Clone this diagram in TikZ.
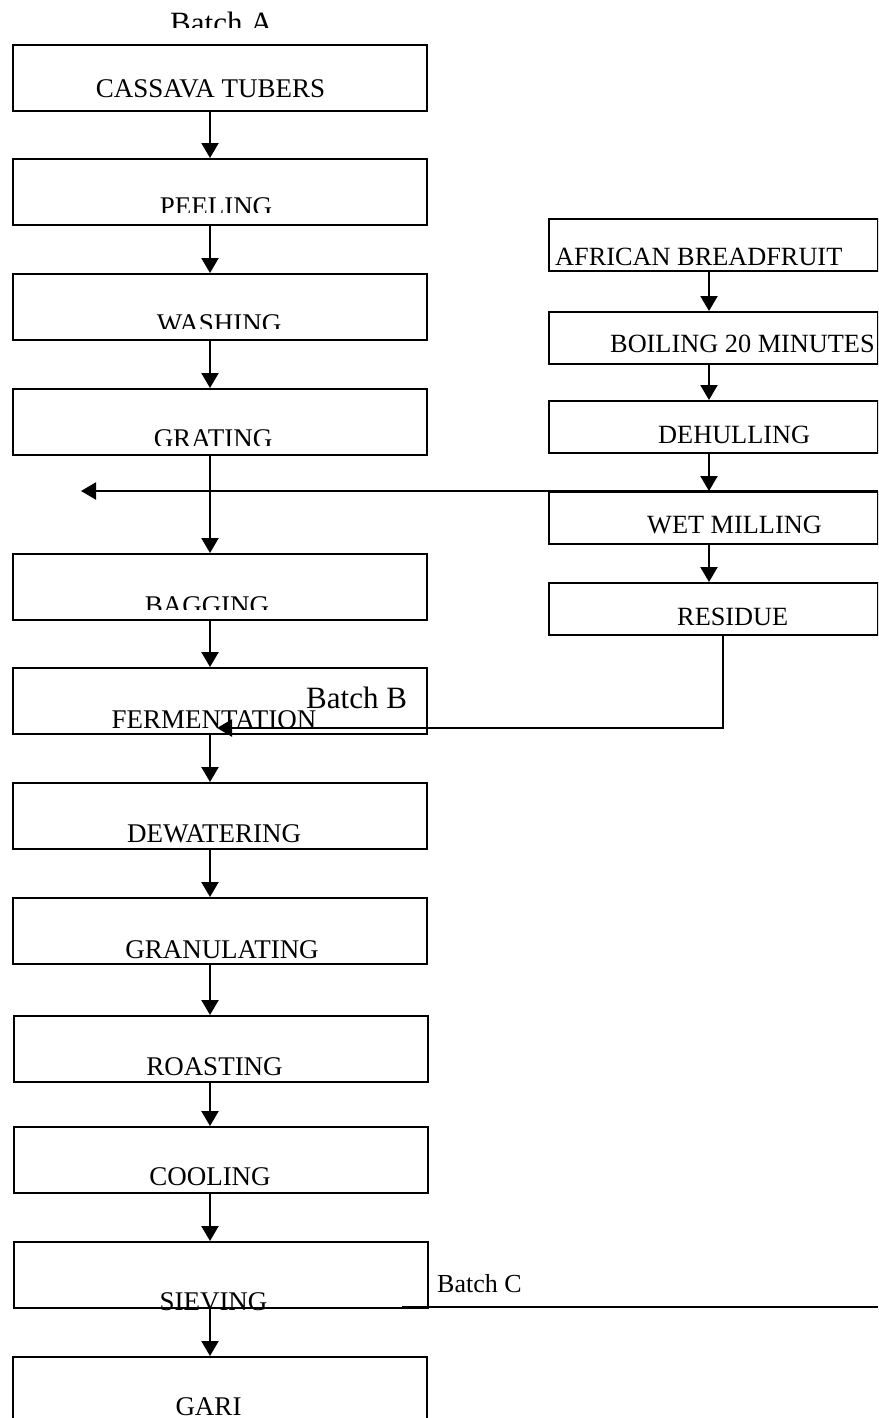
\documentclass[tikz,border=0pt]{standalone}
\usepackage{fontspec}
\setmainfont{Liberation Serif}
\usetikzlibrary{arrows.meta}
\begin{document}
\begin{tikzpicture}[x=1pt,y=-1pt,
  box/.style={draw,line width=1.9pt,inner sep=0pt,minimum width=414pt,minimum height=66pt,anchor=north west},
  rbox/.style={draw,line width=1.7pt,inner sep=0pt,minimum width=329pt,minimum height=52pt,anchor=north west},
  lbl/.style={inner sep=0pt,anchor=base,font=\fontsize{27}{32}\selectfont},
  lbll/.style={inner sep=0pt,anchor=base west,font=\fontsize{26.3}{31}\selectfont},
  batch/.style={inner sep=0pt,anchor=base west,font=\fontsize{31}{36}\selectfont},
  arr/.style={line width=2.2pt,-{Triangle[width=17pt,length=15pt]}},
  conn/.style={line width=1.8pt}]
\useasboundingbox (0,0) rectangle (878,1418);
\clip (0,0) rectangle (878,1418);
% helper x positions
\coordinate (ax) at (210,0);
\coordinate (rx) at (709,0);
\coordinate (qx) at (723,0);
% left column boxes
\node[box] (cassava) at (12,44) {};
\node[box] (peeling) at (12,158) {};
\node[box] (washing) at (12,273) {};
\node[box] (grating) at (12,388) {};
\node[box] (bagging) at (12,553) {};
\node[box] (ferment) at (12,667) {};
\node[box] (dewater) at (12,782) {};
\node[box] (granul) at (12,897) {};
\node[box] (roast) at (13,1015) {};
\node[box] (cool) at (13,1126) {};
\node[box] (sieve) at (13,1241) {};
\node[box] (gari) at (12,1356) {};
% left column labels
\begin{scope}\clip (0,0) rectangle (878,28);
\node[batch] (batchA) at (170,34) {Batch A};
\end{scope}
\node[lbl] (cassavaT) at (210.5,98) {CASSAVA TUBERS};
\begin{scope}\clip (0,0) rectangle (878,212);
\node[lbl] (peelingT) at (216,215) {PEELING};
\end{scope}
\begin{scope}\clip (0,0) rectangle (878,328);
\node[lbl] (washingT) at (219,332) {WASHING};
\end{scope}
\begin{scope}\clip (0,0) rectangle (878,445);
\node[lbl] (gratingT) at (213,447) {GRATING};
\end{scope}
\begin{scope}\clip (0,0) rectangle (878,609);
\node[lbl] (baggingT) at (207,614) {BAGGING};
\end{scope}
\node[lbl] (fermentT) at (214,728) {FERMENTATION};
\node[batch] (batchB) at (306,708) {Batch B};
\node[lbl] (dewaterT) at (214,842) {DEWATERING};
\node[lbl] (granulT) at (222,958) {GRANULATING};
\node[lbl] (roastT) at (214.5,1075) {ROASTING};
\node[lbl] (coolT) at (210,1185) {COOLING};
\node[lbl] (sieveT) at (213.5,1310) {SIEVING};
\node[lbl] (gariT) at (208.5,1415) {GARI};
\node[inner sep=0pt,anchor=base west,font=\fontsize{26}{30}\selectfont] (batchC) at (437,1292) {Batch C};
% right column boxes
\node[rbox] (bread) at (548,218) {};
\node[rbox] (boil) at (548,311) {};
\node[rbox] (dehull) at (548,400) {};
\node[rbox] (wetmill) at (548,491) {};
\node[rbox] (residue) at (548,582) {};
\node[lbll] (breadT) at (555,265) {AFRICAN BREADFRUIT};
\node[lbll] (boilT) at (610,352) {BOILING 20 MINUTES};
\node[lbll] (dehullT) at (658,443) {DEHULLING};
\node[lbll] (wetmillT) at (647,533) {WET MILLING};
\node[lbll] (residueT) at (677,625) {RESIDUE};
% left column arrows
\draw[arr] (cassava.south -| ax) -- (peeling.north -| ax);
\draw[arr] (peeling.south -| ax) -- (washing.north -| ax);
\draw[arr] (washing.south -| ax) -- (grating.north -| ax);
\draw[arr] (grating.south -| ax) -- (bagging.north -| ax);
\draw[arr] (bagging.south -| ax) -- (ferment.north -| ax);
\draw[arr] (ferment.south -| ax) -- (dewater.north -| ax);
\draw[arr] (dewater.south -| ax) -- (granul.north -| ax);
\draw[arr] (granul.south -| ax) -- (roast.north -| ax);
\draw[arr] (roast.south -| ax) -- (cool.north -| ax);
\draw[arr] (cool.south -| ax) -- (sieve.north -| ax);
\draw[arr] (sieve.south -| ax) -- (gari.north -| ax);
% right column arrows
\draw[arr] (bread.south -| rx) -- (boil.north -| rx);
\draw[arr] (boil.south -| rx) -- (dehull.north -| rx);
\draw[arr] (dehull.south -| rx) -- (wetmill.north -| rx);
\draw[arr] (wetmill.south -| rx) -- (residue.north -| rx);
% long horizontal arrow
\coordinate (hR) at (878,491);
\coordinate (hL) at (81,491);
\draw[arr] (hR) -- (hL);
% residue to fermentation
\coordinate (btip) at (217,728);
\draw[arr] (residue.south -| qx) |- (btip);
% batch C line
\coordinate (cL) at (402,1307);
\coordinate (cR) at (878,1307);
\draw[conn] (cL) -- (cR);
\end{tikzpicture}
\end{document}
